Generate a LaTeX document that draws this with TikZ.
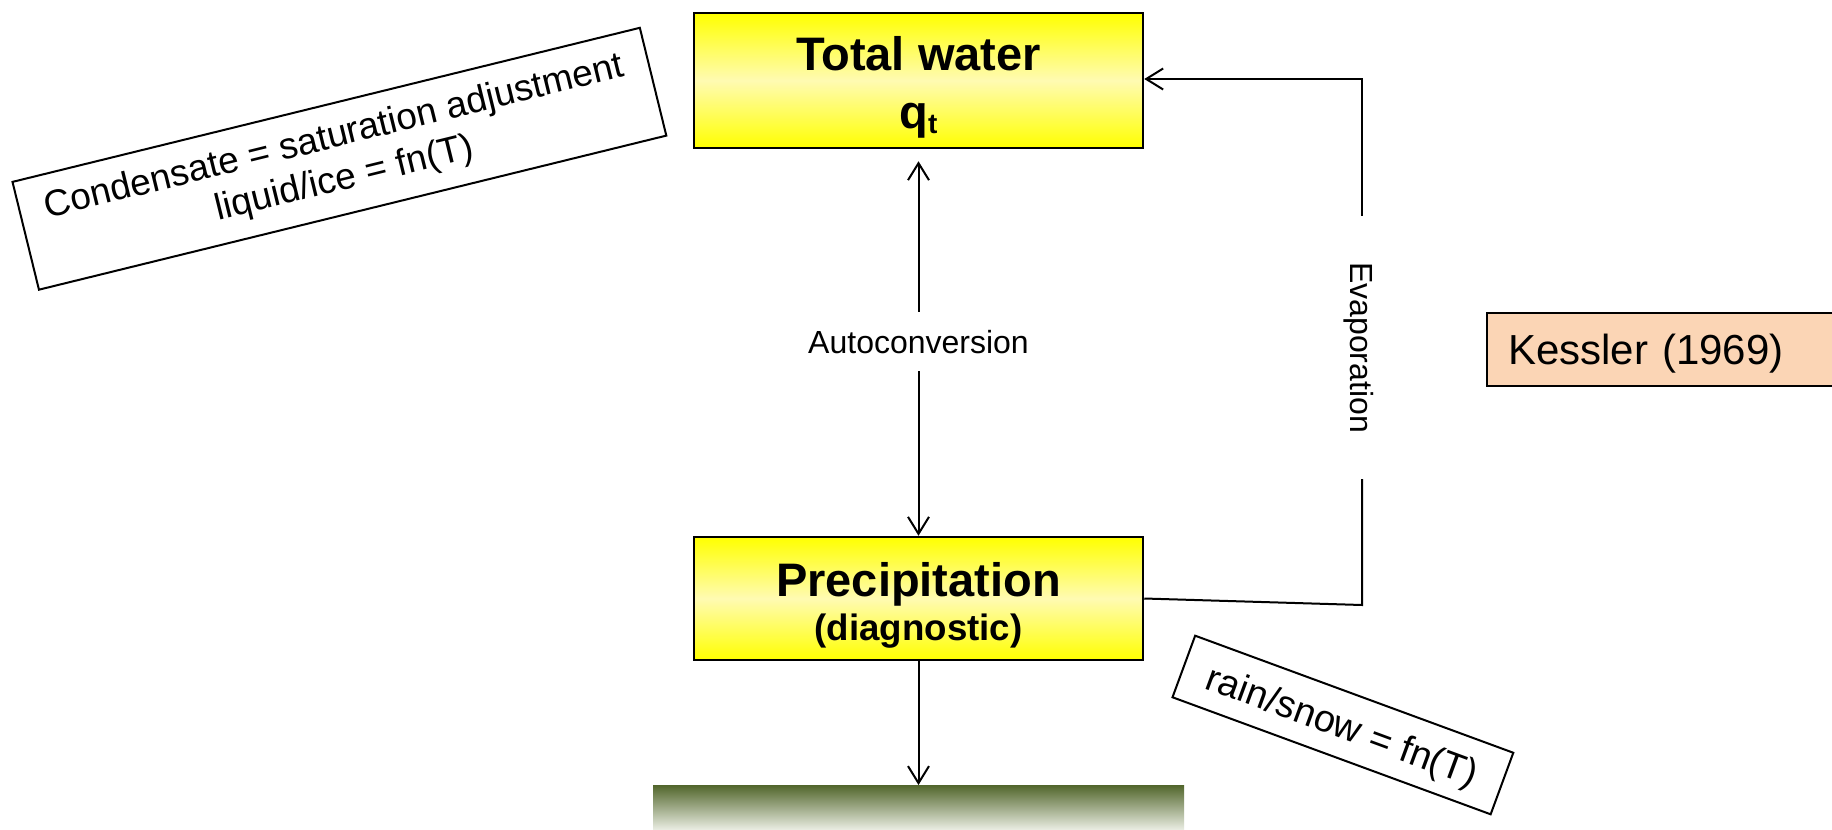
\documentclass[tikz,border=0pt]{standalone}
\usepackage{fontspec}
\setmainfont{Liberation Sans}
\usetikzlibrary{arrows.meta}
\definecolor{ylw}{RGB}{255,255,0}
\definecolor{paleylw}{RGB}{255,251,178}
\definecolor{peach}{RGB}{251,213,181}
\definecolor{gtop}{RGB}{82,102,44}
\definecolor{gbot}{RGB}{236,239,229}
\begin{document}
\begin{tikzpicture}[
  yellowbox/.style={draw=black, line width=2.5pt, top color=ylw, bottom color=ylw, middle color=paleylw, minimum width=449pt, inner sep=0pt},
  conn/.style={line width=2pt, draw=black},
  arr/.style={conn, -{Straight Barb[length=17pt,width=21pt]}},
  note/.style={draw=black, line width=2pt, fill=white, inner sep=0pt, align=center},
  lbl/.style={inner sep=0pt, text height=23pt, text depth=0pt, font=\fontsize{32}{38}\selectfont},
  bigtxt/.style={anchor=base, inner sep=0pt, font=\fontsize{47}{52}\selectfont\bfseries},
]
\useasboundingbox (0,0) rectangle (1832pt,-830pt);
\clip (0,0) rectangle (1832pt,-830pt);
\fill[white] (0,0) rectangle (1832pt,-830pt);

% main boxes
\node[yellowbox, minimum height=135pt] (tw) at (918.5pt,-80.5pt) {};
\node[bigtxt] (twt) at (918.5pt,-70pt) {Total water};
\node[bigtxt] (twq) at (918.5pt,-128pt) {q\raisebox{-5pt}{\fontsize{28}{30}\selectfont t}};

\node[yellowbox, minimum height=123pt] (pr) at (918.5pt,-598.5pt) {};
\node[bigtxt] (prt) at (918.5pt,-596pt) {Precipitation};
\node[bigtxt, font=\fontsize{36.7}{40}\selectfont\bfseries] (prd) at (918.5pt,-640pt) {(diagnostic)};

% ground
\node[inner sep=0pt, minimum width=531pt, minimum height=45pt, top color=gtop, bottom color=gbot, anchor=north] (ground) at (918.5pt,-785pt) {};

% autoconversion
\node[lbl, inner ysep=18pt] (auto) at (918.5pt,-341.5pt) {Autoconversion};
\coordinate (autotip) at ([yshift=-12pt]tw.south);
\draw[arr] (auto.north) -- (autotip);
\draw[arr] (auto.south) -- (pr.north);

% precipitation to ground
\draw[arr] (pr.south) -- (ground.north);

% evaporation
\node[lbl, rotate=-90, inner xsep=46pt] (evap) at (1362pt,-347.5pt) {Evaporation};
\coordinate (c1) at (1362pt,-605pt);
\coordinate (c2) at (1362pt,-79pt);
\draw[conn] (pr.east) -- (c1) -- (c1 |- evap.east);
\draw[arr] (c2 |- evap.west) -- (c2) -- (c2 -| tw.east);

% notes
\node[note, rotate=13.8, minimum width=646pt, minimum height=111pt, font=\fontsize{37}{43}\selectfont] (cond) at (339.4pt,-158.75pt) {Condensate = saturation adjustment\\liquid/ice = fn(T)};
\node[note, rotate=-20.2, minimum width=339pt, minimum height=65.6pt, text height=27pt, text depth=0pt, font=\fontsize{38}{44}\selectfont] (rain) at (1342.9pt,-725pt) {rain/snow = fn(T)};
\node[draw=black, line width=2pt, fill=peach, anchor=west, minimum height=73pt, text width=312pt, inner xsep=21pt, inner ysep=0pt, text height=30pt, text depth=0pt, align=left, font=\fontsize{42}{48}\selectfont] (kes) at (1486pt,-349.5pt) {Kessler (1969)};
\end{tikzpicture}
\end{document}
